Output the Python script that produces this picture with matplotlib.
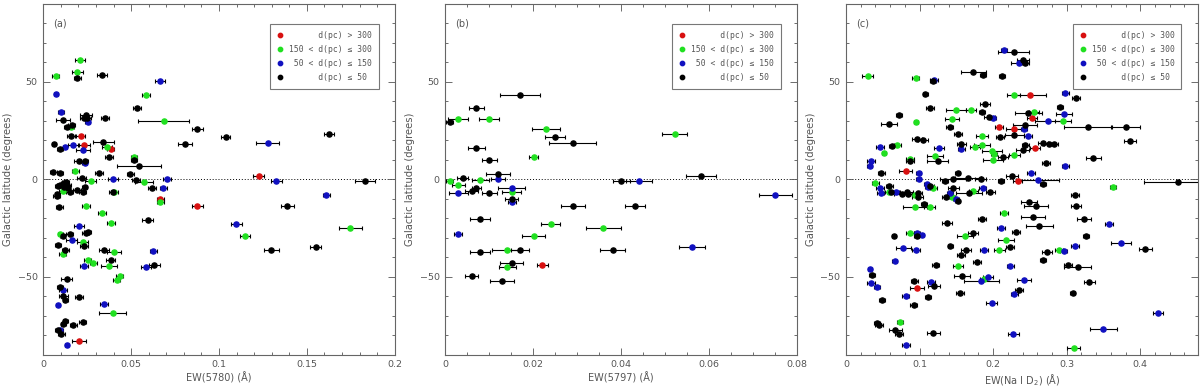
import numpy as np
import matplotlib
matplotlib.use("Agg")
import matplotlib.pyplot as plt
from matplotlib.ticker import MultipleLocator

# ---- data: (EW, galactic latitude, EW error) per distance class ----
A_RED = [(0.0213, 22.3, 0.0025), (0.0232, 17.6, 0.0035), (0.0383, 15.8, 0.002),
         (0.1226, 1.7, 0.0032), (0.0666, -9.9, 0.002), (0.0877, -13.7, 0.003),
         (0.0203, -82.7, 0.004)]
A_GREEN = [(0.0209, 61.3, 0.003), (0.0194, 55.3, 0.003), (0.0072, 52.9, 0.002),
           (0.0583, 43.2, 0.0023), (0.0685, 30.0, 0.0146), (0.0159, 27.1, 0.0015),
           (0.0364, 16.8, 0.003), (0.0516, 11.5, 0.0015), (0.0182, 4.1, 0.002),
           (0.027, -0.7, 0.003), (0.0573, -1.2, 0.005), (0.011, -6.0, 0.002),
           (0.0405, -6.3, 0.002), (0.0666, -11.5, 0.002), (0.0243, -13.4, 0.0023),
           (0.0336, -17.3, 0.0023), (0.0385, -22.4, 0.0023), (0.1748, -24.8, 0.0066),
           (0.0097, -27.8, 0.0015), (0.1148, -28.8, 0.003), (0.0224, -32.2, 0.003),
           (0.0404, -37.0, 0.004), (0.011, -38.5, 0.002), (0.0252, -41.6, 0.002),
           (0.0285, -42.8, 0.002), (0.0374, -44.2, 0.0048), (0.0435, -49.7, 0.002),
           (0.0418, -51.7, 0.002), (0.0395, -68.5, 0.0076)]
A_BLUE = [(0.0072, 43.9, 0.001), (0.0664, 50.4, 0.003), (0.0101, 34.6, 0.0015),
          (0.0254, 29.3, 0.0015), (0.1278, 18.8, 0.0066), (0.0171, 17.6, 0.003),
          (0.0123, 16.8, 0.001), (0.0224, 14.9, 0.004), (0.0235, 8.2, 0.0015),
          (0.0397, 0.0, 0.003), (0.0704, 0.3, 0.0023), (0.1327, -0.7, 0.0034),
          (0.0683, -4.5, 0.002), (0.161, -8.2, 0.002), (0.1099, -23.1, 0.003),
          (0.0203, -24.1, 0.003), (0.0161, -31.3, 0.003), (0.0626, -36.5, 0.002),
          (0.0233, -44.4, 0.0023), (0.0585, -44.9, 0.003), (0.0114, -56.9, 0.0023),
          (0.0084, -64.2, 0.001), (0.0344, -63.7, 0.0023), (0.0095, -77.1, 0.0015),
          (0.0133, -84.8, 0.001)]
A_BLACK = [(0.0194, 52.1, 0.002), (0.0334, 53.4, 0.003), (0.0533, 36.5, 0.0025),
           (0.0243, 33.1, 0.0034), (0.0232, 31.3, 0.002), (0.025, 31.3, 0.002),
           (0.0353, 31.3, 0.0023), (0.0112, 30.3, 0.0038), (0.0163, 28.1, 0.002),
           (0.0133, 27.1, 0.0015), (0.0877, 25.7, 0.003), (0.0159, 22.3, 0.0023),
           (0.1038, 21.6, 0.0027), (0.1625, 23.1, 0.003), (0.0807, 18.0, 0.0042),
           (0.0061, 18.0, 0.001), (0.0342, 19.4, 0.006), (0.0095, 15.4, 0.0015),
           (0.0374, 11.6, 0.0023), (0.0516, 10.1, 0.0015), (0.0205, 9.2, 0.003),
           (0.0235, 9.2, 0.002), (0.0545, 7.0, 0.0123), (0.0057, 3.6, 0.002),
           (0.0095, 3.2, 0.0015), (0.0317, 3.4, 0.0023), (0.0494, 2.9, 0.002),
           (0.0218, 0.7, 0.0025), (0.0526, -0.5, 0.0023), (0.1832, -1.0, 0.0057),
           (0.0129, -1.2, 0.002), (0.0116, -2.1, 0.0015), (0.0137, -2.9, 0.002),
           (0.0095, -2.9, 0.0015), (0.0084, -3.3, 0.0015), (0.012, -3.9, 0.0015),
           (0.014, -4.3, 0.0015), (0.0192, -5.3, 0.0023), (0.0235, -3.9, 0.0015),
           (0.0617, -4.6, 0.0023), (0.0152, -6.3, 0.002), (0.0224, -6.5, 0.002),
           (0.008, -7.7, 0.0015), (0.0076, -8.7, 0.002), (0.0395, -6.5, 0.002),
           (0.0091, -14.0, 0.002), (0.1388, -13.7, 0.0038), (0.0594, -20.6, 0.003),
           (0.011, -28.8, 0.0015), (0.0152, -27.8, 0.002), (0.0243, -27.4, 0.002),
           (0.0254, -27.0, 0.002), (0.0084, -33.9, 0.0015), (0.0233, -34.4, 0.0023),
           (0.0125, -36.3, 0.002), (0.0347, -36.3, 0.003), (0.1298, -36.3, 0.0042),
           (0.1549, -34.8, 0.003), (0.0383, -41.1, 0.0023), (0.0632, -43.7, 0.003),
           (0.0133, -51.0, 0.003), (0.0095, -55.3, 0.0015), (0.0114, -60.0, 0.0025),
           (0.0125, -62.0, 0.0015), (0.0205, -60.5, 0.0023), (0.0224, -73.1, 0.002),
           (0.0125, -72.4, 0.0015), (0.0114, -74.0, 0.0015), (0.0171, -74.6, 0.002),
           (0.0084, -77.1, 0.0015), (0.0103, -79.3, 0.002)]

B_RED = [(0.0221, -43.7, 0.0013)]
B_GREEN = [(0.003, 31.2, 0.0023), (0.01, 31.2, 0.0023), (0.023, 25.7, 0.0032),
           (0.0522, 23.1, 0.0028), (0.0201, 11.6, 0.001), (0.001, -0.7, 0.0008),
           (0.008, -0.5, 0.0019), (0.003, -3.1, 0.0015), (0.0151, -6.5, 0.0021),
           (0.024, -23.1, 0.0021), (0.036, -24.8, 0.004), (0.0201, -28.9, 0.0027),
           (0.0141, -36.3, 0.0034), (0.0141, -44.7, 0.0019)]
B_BLUE = [(0.012, 0.0, 0.0015), (0.0441, -0.9, 0.0029), (0.0151, -4.5, 0.003),
          (0.003, -6.8, 0.0021), (0.0151, -11.6, 0.0009), (0.0751, -8.2, 0.0037),
          (0.003, -27.9, 0.0009), (0.0562, -34.8, 0.0029)]
B_BLACK = [(0.017, 43.2, 0.0046), (0.0071, 36.6, 0.0017), (0.001, 29.5, 0.0008),
           (0.025, 21.7, 0.0023), (0.029, 18.8, 0.0053), (0.0071, 15.9, 0.0019),
           (0.01, 10.1, 0.0017), (0.012, 2.9, 0.0028), (0.004, 0.5, 0.0013),
           (0.0401, -1.0, 0.0019), (0.0582, 1.7, 0.0034), (0.0071, -4.5, 0.001),
           (0.006, -6.2, 0.0015), (0.01, -6.8, 0.0017), (0.0151, -9.9, 0.0014),
           (0.029, -13.7, 0.0027), (0.0431, -13.7, 0.0023), (0.008, -20.5, 0.0023),
           (0.017, -36.3, 0.0021), (0.008, -37.0, 0.0023), (0.0381, -36.3, 0.0029),
           (0.0151, -42.8, 0.0027), (0.006, -49.7, 0.0015), (0.013, -51.9, 0.0027)]

C_RED = [(0.250, 43.2, 0.022), (0.253, 31.7, 0.007), (0.208, 27.1, 0.0055),
         (0.229, 25.9, 0.011), (0.257, 16.1, 0.007), (0.0814, 4.1, 0.009),
         (0.2335, -0.9, 0.006), (0.0964, -55.7, 0.009)]
C_GREEN = [(0.0294, 52.9, 0.007), (0.0946, 52.1, 0.0045), (0.228, 43.2, 0.009),
           (0.150, 35.4, 0.0135), (0.170, 35.4, 0.007), (0.256, 34.4, 0.007),
           (0.295, 30.1, 0.011), (0.095, 29.5, 0.003), (0.144, 31.2, 0.009),
           (0.185, 22.4, 0.008), (0.070, 17.5, 0.0045), (0.175, 16.8, 0.007),
           (0.185, 17.6, 0.011), (0.199, 14.6, 0.0135), (0.201, 13.2, 0.004),
           (0.200, 10.1, 0.0135), (0.229, 12.5, 0.007), (0.0516, 13.4, 0.003),
           (0.0869, 10.4, 0.0055), (0.1208, 11.8, 0.011), (0.0398, -1.7, 0.0045),
           (0.363, -3.9, 0.0045), (0.1186, -4.3, 0.005), (0.058, -6.7, 0.005),
           (0.0937, -8.2, 0.004), (0.173, -6.0, 0.006), (0.144, -8.9, 0.004),
           (0.094, -14.2, 0.016), (0.1136, -14.0, 0.008), (0.215, -17.3, 0.0055),
           (0.0869, -27.7, 0.0055), (0.1615, -28.8, 0.011), (0.217, -31.2, 0.011),
           (0.2086, -36.3, 0.007), (0.289, -36.3, 0.0055), (0.152, -44.2, 0.007),
           (0.187, -51.0, 0.005), (0.0729, -73.3, 0.004), (0.3095, -86.3, 0.009)]
C_BLUE = [(0.215, 66.4, 0.004), (0.235, 59.6, 0.011), (0.120, 51.0, 0.0055),
          (0.298, 44.3, 0.0045), (0.296, 33.6, 0.011), (0.200, 31.3, 0.004),
          (0.275, 29.8, 0.018), (0.242, 26.0, 0.004), (0.248, 22.3, 0.0055),
          (0.157, 15.6, 0.0045), (0.0466, 16.4, 0.0055), (0.126, 15.9, 0.007),
          (0.034, 9.6, 0.0055), (0.032, 6.8, 0.004), (0.298, 7.0, 0.0045),
          (0.0986, 3.4, 0.004), (0.2516, 3.1, 0.0055), (0.0986, 0.0, 0.003),
          (0.2606, -0.4, 0.029), (0.1095, -2.6, 0.004), (0.1113, -3.9, 0.004),
          (0.0462, -4.6, 0.005), (0.047, -7.0, 0.005), (0.0683, -6.7, 0.004),
          (0.186, -4.6, 0.005), (0.141, -7.0, 0.004), (0.149, -10.1, 0.004),
          (0.357, -23.1, 0.0055), (0.211, -24.8, 0.0055), (0.0968, -27.6, 0.004),
          (0.1027, -28.6, 0.004), (0.374, -32.4, 0.0135), (0.311, -34.4, 0.0055),
          (0.0778, -35.3, 0.01), (0.095, -36.3, 0.0055), (0.187, -36.3, 0.0055),
          (0.296, -36.5, 0.0045), (0.066, -41.8, 0.004), (0.2235, -44.4, 0.0045),
          (0.0326, -46.2, 0.003), (0.034, -53.1, 0.005), (0.042, -55.3, 0.004),
          (0.115, -52.4, 0.0055), (0.184, -51.9, 0.024), (0.1928, -50.2, 0.007),
          (0.242, -51.4, 0.009), (0.229, -58.6, 0.0045), (0.081, -59.9, 0.0045),
          (0.198, -63.5, 0.007), (0.4244, -68.5, 0.007), (0.2276, -79.5, 0.007),
          (0.35, -76.7, 0.018), (0.081, -84.8, 0.0055)]
C_BLACK = [(0.228, 65.1, 0.021), (0.241, 61.3, 0.008), (0.244, 59.6, 0.005),
           (0.118, 50.2, 0.004), (0.173, 55.3, 0.017), (0.186, 53.4, 0.0045),
           (0.212, 52.9, 0.0045), (0.108, 43.8, 0.0036), (0.313, 41.8, 0.0055),
           (0.072, 33.2, 0.0045), (0.1145, 36.6, 0.0055), (0.189, 38.5, 0.007),
           (0.185, 34.6, 0.004), (0.195, 32.2, 0.007), (0.248, 34.1, 0.018),
           (0.291, 37.3, 0.0045), (0.329, 27.1, 0.033), (0.380, 26.7, 0.02),
           (0.386, 19.7, 0.008), (0.336, 10.8, 0.01), (0.0588, 28.3, 0.011),
           (0.141, 26.9, 0.0045), (0.243, 28.1, 0.016), (0.152, 23.1, 0.0055),
           (0.209, 21.7, 0.0055), (0.229, 22.9, 0.0135), (0.0964, 20.9, 0.007),
           (0.1045, 20.2, 0.007), (0.157, 18.0, 0.0055), (0.244, 17.5, 0.0045),
           (0.268, 18.8, 0.007), (0.276, 18.0, 0.007), (0.283, 18.3, 0.0055),
           (0.2136, 11.5, 0.007), (0.240, 14.9, 0.009), (0.272, 8.4, 0.0055),
           (0.062, 17.0, 0.003), (0.0869, 9.6, 0.0055), (0.1244, 9.2, 0.0145),
           (0.048, 3.1, 0.0045), (0.1516, 3.4, 0.004), (0.134, -0.6, 0.004),
           (0.1457, 0.1, 0.018), (0.1656, 0.7, 0.018), (0.183, 0.2, 0.008),
           (0.211, -0.6, 0.004), (0.2258, 1.6, 0.008), (0.268, -2.6, 0.004),
           (0.452, -1.2, 0.047), (0.0588, -3.4, 0.005), (0.1145, -3.4, 0.005),
           (0.146, -4.6, 0.008), (0.196, -6.3, 0.006), (0.167, -7.0, 0.018),
           (0.0606, -6.7, 0.004), (0.0756, -7.7, 0.011), (0.0824, -6.3, 0.009),
           (0.0842, -7.7, 0.006), (0.0977, -6.8, 0.006), (0.0973, -8.9, 0.008),
           (0.136, -9.1, 0.006), (0.1516, -11.1, 0.004), (0.311, -8.2, 0.0055),
           (0.249, -11.5, 0.011), (0.258, -13.7, 0.016), (0.313, -13.7, 0.007),
           (0.106, -12.8, 0.004), (0.185, -20.5, 0.0055), (0.254, -19.3, 0.016),
           (0.3235, -20.2, 0.009), (0.263, -24.1, 0.018), (0.137, -22.4, 0.007),
           (0.231, -26.9, 0.0055), (0.173, -27.7, 0.007), (0.065, -29.1, 0.003),
           (0.0959, -28.8, 0.004), (0.3267, -29.1, 0.004), (0.142, -34.1, 0.004),
           (0.2235, -34.8, 0.0055), (0.407, -35.8, 0.009), (0.163, -36.1, 0.007),
           (0.2729, -37.0, 0.007), (0.1566, -38.7, 0.0055), (0.178, -42.6, 0.0055),
           (0.268, -41.1, 0.0045), (0.122, -44.0, 0.0045), (0.302, -43.8, 0.0055),
           (0.315, -44.7, 0.018), (0.0348, -49.0, 0.004), (0.0928, -52.1, 0.0045),
           (0.120, -54.5, 0.008), (0.1575, -49.5, 0.011), (0.331, -52.6, 0.007),
           (0.235, -56.8, 0.0055), (0.155, -58.2, 0.0055), (0.308, -58.2, 0.004),
           (0.111, -60.4, 0.004), (0.0489, -61.8, 0.0045), (0.092, -64.4, 0.0045),
           (0.0416, -73.8, 0.004), (0.045, -74.5, 0.0055), (0.067, -77.1, 0.009),
           (0.0715, -79.5, 0.0055), (0.1186, -78.6, 0.009)]

LEGEND_LABELS = ["      d(pc) > 300", "150 < d(pc) \u2264 300",
                 " 50 < d(pc) \u2264 150", "      d(pc) \u2264 50"]
COLORS = ["#d81010", "#20e020", "#1010c0", "black"]

PANELS = [
    ("(a)", "EW(5780) (\u00c5)", 0.2, 0.05, 0.01, [A_RED, A_GREEN, A_BLUE, A_BLACK]),
    ("(b)", "EW(5797) (\u00c5)", 0.08, 0.02, 0.005, [B_RED, B_GREEN, B_BLUE, B_BLACK]),
    ("(c)", "EW(Na I D$_2$) (\u00c5)", 0.478, 0.1, 0.02, [C_RED, C_GREEN, C_BLUE, C_BLACK]),
]

GRAY = "#555555"
plt.rcParams["font.family"] = ["DejaVu Sans"]
plt.rcParams["mathtext.default"] = "regular"

fig = plt.figure(figsize=(12, 3.87), dpi=100)
lefts = [0.036, 0.371, 0.705]
width = 0.293

for i, (tag, xlabel, xmax, major, minor, groups) in enumerate(PANELS):
    ax = fig.add_axes([lefts[i], 0.083, width, 0.907])
    ax.axhline(0, color="black", lw=0.7, ls=(0, (1, 2)), zorder=1)
    handles = []
    for pts, col in zip(groups, COLORS):
        arr = np.array(pts)
        eb = ax.errorbar(arr[:, 0], arr[:, 1], xerr=arr[:, 2], fmt="o", color=col,
                         mec=col, ms=3.7, ecolor="black", elinewidth=0.8,
                         capsize=1.5, capthick=0.8, zorder=3)
        handles.append(eb.lines[0])
    ax.set_xlim(0, xmax)
    ax.set_ylim(-90, 90)
    ax.xaxis.set_major_locator(MultipleLocator(major))
    ax.xaxis.set_minor_locator(MultipleLocator(minor))
    ax.yaxis.set_major_locator(MultipleLocator(50))
    ax.yaxis.set_minor_locator(MultipleLocator(10))
    ax.xaxis.set_major_formatter(plt.FuncFormatter(lambda v, p: "0" if v == 0 else f"{v:g}"))
    ax.tick_params(which="both", direction="in", top=True, right=True,
                   colors=GRAY, labelsize=6.8, width=0.6)
    ax.tick_params(which="major", length=5, pad=4)
    ax.tick_params(which="minor", length=2.5)
    for s in ax.spines.values():
        s.set_color("#666666")
        s.set_linewidth(0.8)
    ax.set_xlabel(xlabel, fontsize=7, color=GRAY, labelpad=2)
    ax.set_ylabel("Galactic latitude (degrees)", fontsize=7.2, color=GRAY, labelpad=3)
    ax.text(0.028, 0.943, tag, transform=ax.transAxes, fontsize=7, color=GRAY,
            va="center", ha="left")
    leg = ax.legend(handles, LEGEND_LABELS, loc="upper right",
                    bbox_to_anchor=(0.954, 0.943), borderaxespad=0, numpoints=1,
                    prop={"family": "DejaVu Sans Mono", "size": 5.8},
                    handlelength=0.8, handletextpad=0.7, labelspacing=0.62,
                    borderpad=0.85, fancybox=False, framealpha=1, markerscale=0.85)
    leg.get_frame().set_edgecolor("#777777")
    leg.get_frame().set_linewidth(0.8)
    for t in leg.get_texts():
        t.set_color(GRAY)

fig.savefig("out.png", dpi=100)
